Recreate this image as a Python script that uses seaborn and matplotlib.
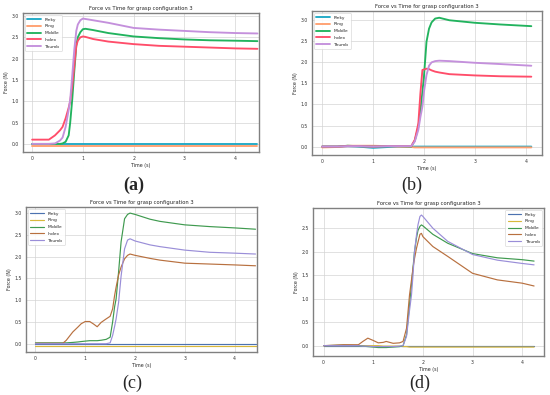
import matplotlib
matplotlib.use("Agg")
import matplotlib.pyplot as plt
import numpy as np
import pandas as pd
import seaborn as sns

# finger names and palettes
fingers = ["Pinky", "Ring", "Middle", "Index", "Thumb"]
colors_ab = ["#1fa9c6", "#ffa070", "#22b35e", "#ff4d6a", "#c490dc"]
colors_cd = ["#4c72b0", "#d8b83c", "#3f9a4f", "#b8703f", "#9a8ed8"]

# panel (a)
t_a = [0, 0.33, 0.45, 0.55, 0.6, 0.66, 0.72, 0.75, 0.79, 0.83, 0.87, 0.9, 0.95,
       1.0, 1.05, 1.2, 1.5, 2.0, 2.5, 3.0, 3.5, 4.0, 4.44]
pinky_a = [0.0] * len(t_a)
ring_a = [-0.04] * len(t_a)
middle_a = [0, 0, 0, 0, 0.01, 0.05, 0.2, 0.5, 1.04, 1.7, 2.3, 2.5, 2.62,
            2.69, 2.7, 2.67, 2.6, 2.52, 2.48, 2.45, 2.43, 2.42, 2.41]
index_a = [0.1, 0.1, 0.2, 0.32, 0.4, 0.6, 0.85, 1.0, 1.35, 1.82, 2.3, 2.42, 2.5,
           2.52, 2.51, 2.46, 2.4, 2.34, 2.3, 2.28, 2.26, 2.24, 2.23]
thumb_a = [0, 0, 0.01, 0.08, 0.15, 0.4, 0.8, 1.04, 1.6, 2.2, 2.65, 2.8, 2.9,
           2.94, 2.93, 2.9, 2.84, 2.72, 2.68, 2.65, 2.62, 2.6, 2.59]

# panel (b)
t_b = [0, 0.3, 0.5, 0.7, 1.0, 1.3, 1.5, 1.75, 1.82, 1.89, 1.93, 1.97, 2.0, 2.05,
       2.1, 2.15, 2.22, 2.3, 2.5, 3.0, 3.5, 4.11]
pinky_b = [0, 0, 0.01, 0.0, -0.03, -0.01, 0, 0, 0, 0, 0, 0, 0, 0,
           0, 0, 0, 0, 0, 0, 0, 0]
ring_b = [-0.02, -0.01, 0.02, 0.02, 0.02, 0.01, 0.0, -0.01, -0.02, -0.02, -0.02, -0.02,
          -0.02, -0.02, -0.02, -0.02, -0.02, -0.02, -0.02, -0.02, -0.02, -0.02]
middle_b = [0, 0, 0.02, 0.01, 0.0, 0.01, 0.01, 0.0, 0.14, 0.47, 0.85, 1.3, 1.66, 2.49,
            2.8, 2.95, 3.04, 3.06, 3.0, 2.94, 2.9, 2.86]
index_b = [0, 0, 0.01, 0.01, 0.0, 0.01, 0.01, 0.01, 0.16, 0.55, 1.26, 1.82, 1.83, 1.85,
           1.84, 1.81, 1.78, 1.76, 1.72, 1.69, 1.67, 1.66]
thumb_b = [0, 0, 0.01, 0.01, 0, 0.01, 0.01, 0.01, 0.12, 0.4, 0.7, 0.95, 1.3, 1.7,
           1.92, 2.0, 2.03, 2.04, 2.03, 1.99, 1.96, 1.92]

# panel (c)
t_c = [0, 0.55, 0.62, 0.75, 0.85, 0.92, 1.0, 1.09, 1.17, 1.24, 1.32, 1.42, 1.5, 1.55,
       1.59, 1.62, 1.67, 1.72, 1.79, 1.85, 1.9, 2.0, 2.3, 2.5, 3.0, 3.5, 4.0, 4.42]
pinky_c = [0.0] * len(t_c)
ring_c = [-0.05] * len(t_c)
middle_c = [0.02, 0.02, 0.02, 0.03, 0.04, 0.05, 0.06, 0.07, 0.07, 0.07, 0.08, 0.1, 0.15, 0.5,
            0.85, 1.03, 1.65, 2.34, 2.87, 2.97, 3.0, 2.97, 2.86, 2.81, 2.73, 2.69, 2.66, 2.63]
index_c = [0.01, 0.01, 0.08, 0.27, 0.38, 0.46, 0.51, 0.51, 0.45, 0.39, 0.49, 0.57, 0.63, 0.8,
           1.11, 1.3, 1.58, 1.76, 1.95, 2.03, 2.06, 2.03, 1.96, 1.92, 1.85, 1.83, 1.81, 1.79]
thumb_c = [0, 0, 0, 0, 0, 0, 0, 0, 0, 0, 0, 0, 0.02, 0.19,
           0.4, 0.57, 0.95, 1.55, 2.18, 2.38, 2.41, 2.36, 2.27, 2.23, 2.15, 2.1, 2.08, 2.06]

# panel (d)
t_d = [0, 0.4, 0.7, 0.79, 0.89, 1.0, 1.1, 1.2, 1.26, 1.4, 1.53, 1.6, 1.67, 1.73, 1.77,
       1.8, 1.83, 1.87, 1.9, 1.94, 1.97, 2.0, 2.2, 2.5, 3.0, 3.5, 4.0, 4.24]
pinky_d = [0.0] * len(t_d)
ring_d = [0, 0, 0, 0, 0, 0, 0, -0.01, -0.01, -0.01, -0.01, -0.02, -0.02, -0.03, -0.03,
          -0.03, -0.03, -0.03, -0.03, -0.03, -0.03, -0.03, -0.03, -0.03, -0.03, -0.03, -0.03, -0.03]
middle_d = [0, 0.01, 0.0, -0.01, -0.02, -0.03, -0.04, -0.04, -0.04, -0.03, -0.02, 0.0, 0.23, 0.87,
            1.3, 1.65, 2.0, 2.29, 2.45, 2.54, 2.57, 2.55, 2.37, 2.18, 1.96, 1.87, 1.83, 1.8]
index_d = [0, 0.02, 0.02, 0.09, 0.16, 0.11, 0.06, 0.07, 0.09, 0.05, 0.06, 0.09, 0.37, 1.08,
           1.4, 1.65, 1.85, 2.07, 2.2, 2.37, 2.39, 2.32, 2.11, 1.9, 1.54, 1.4, 1.33, 1.27]
thumb_d = [0, 0, 0, -0.01, -0.01, -0.02, -0.02, -0.02, -0.02, -0.02, -0.01, 0.0, 0.2, 0.75,
           1.08, 1.5, 2.0, 2.35, 2.57, 2.75, 2.78, 2.75, 2.5, 2.22, 1.94, 1.82, 1.75, 1.72]

panels = [
    ("(a)", t_a, [pinky_a, ring_a, middle_a, index_a, thumb_a], colors_ab, 1.35,
     (23, 13, 259, 152), (-0.18, 4.47), (-0.19, 3.07), "upper left", "bold", (134, 185)),
    ("(b)", t_b, [pinky_b, ring_b, middle_b, index_b, thumb_b], colors_ab, 1.35,
     (312, 11, 542, 155), (-0.2, 4.32), (-0.2, 3.22), "upper left", "normal", (412, 185)),
    ("(c)", t_c, [pinky_c, ring_c, middle_c, index_c, thumb_c], colors_cd, 0.85,
     (26, 207, 257, 352), (-0.19, 4.45), (-0.19, 3.14), "upper left", "normal", (132, 383)),
    ("(d)", t_d, [pinky_d, ring_d, middle_d, index_d, thumb_d], colors_cd, 0.85,
     (313, 208, 544, 356), (-0.215, 4.44), (-0.22, 2.93), "upper right", "normal", (420, 383)),
]

sns.set_style("whitegrid", {"axes.edgecolor": "#808080", "grid.color": "#d4d4d4"})
plt.rcParams["font.family"] = ["DejaVu Sans"]

W, H = 550, 395
fig = plt.figure(figsize=(W / 100, H / 100), dpi=100)

for label, t, series, colors, lw, box, xlim, ylim, loc, weight, lpos in panels:
    l, top, r, b = box
    ax = fig.add_axes([l / W, 1 - b / H, (r - l) / W, (b - top) / H])
    df = pd.concat([pd.DataFrame({"Time (s)": t, "Force (N)": v, "Finger": f})
                    for f, v in zip(fingers, series)])
    sns.lineplot(data=df, x="Time (s)", y="Force (N)", hue="Finger",
                 palette=colors, linewidth=lw, sort=False, ax=ax)
    ax.set_xlim(*xlim)
    ax.set_ylim(*ylim)
    ax.set_xticks([0, 1, 2, 3, 4])
    ax.set_yticks(np.arange(0, ylim[1], 0.5))
    ax.set_yticklabels([f"{v:.1f}" for v in np.arange(0, ylim[1], 0.5)])
    ax.tick_params(labelsize=3.3, length=1.5, width=0.4, pad=1.5, colors="#333333")
    ax.grid(True, linewidth=0.5)
    for s in ax.spines.values():
        s.set_linewidth(1.0)
    ax.set_xlabel("Time (s)", fontsize=3.4, labelpad=1.5)
    ax.set_ylabel("Force (N)", fontsize=3.4, labelpad=1.5)
    ax.set_title("Force vs Time for grasp configuration 3", fontsize=3.8, pad=2.5)
    leg = ax.legend(loc=loc, fontsize=3.2, frameon=True, handlelength=3,
                    borderpad=0.5, labelspacing=0.6, framealpha=0.9)
    leg.get_frame().set_linewidth(0.4)
    leg.get_frame().set_edgecolor("#cccccc")
    fig.text(lpos[0] / W, 1 - lpos[1] / H, label, ha="center", va="center",
             fontsize=13, fontweight=weight, family="Liberation Serif")

fig.savefig("out.png", dpi=100)
